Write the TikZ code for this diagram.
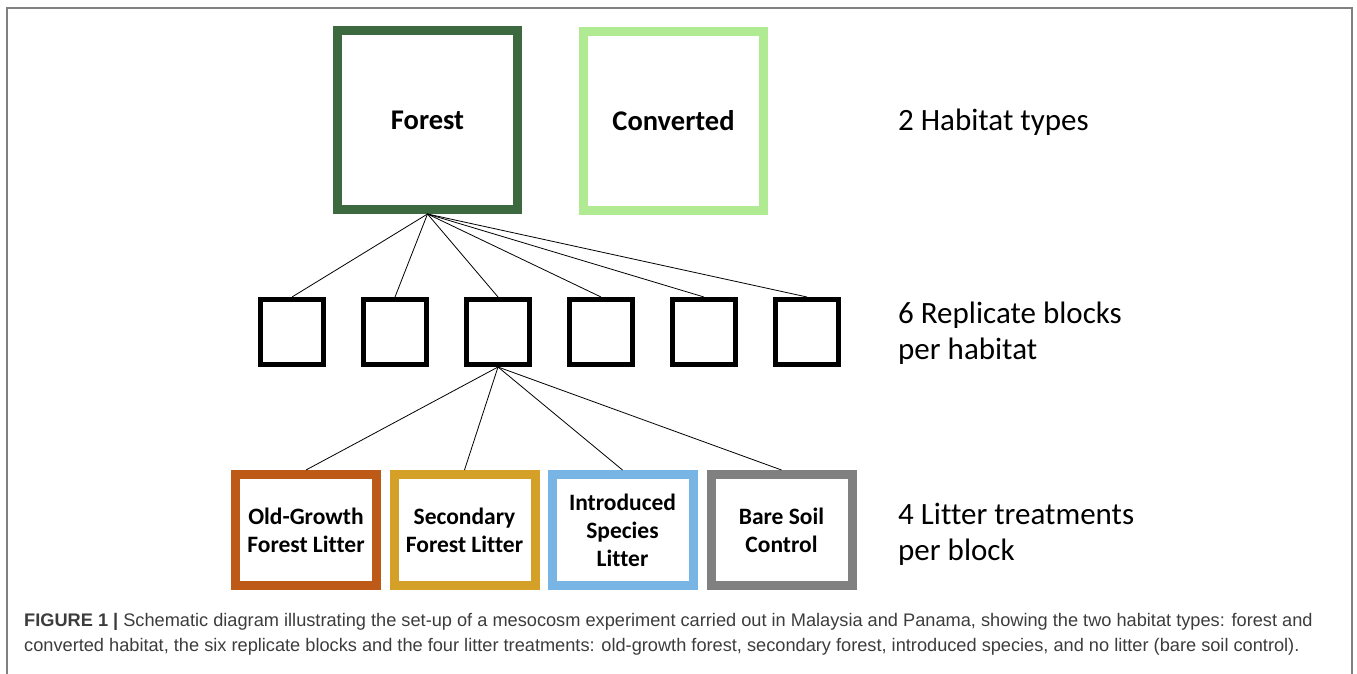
\documentclass[tikz,border=0pt]{standalone}
\usepackage{fontspec}
\setmainfont{Carlito}[Ligatures=CommonOff]
\newfontfamily\capfont{Liberation Sans}
\definecolor{forestgreen}{RGB}{61,105,64}
\definecolor{convgreen}{RGB}{176,234,146}
\definecolor{oldgrowth}{RGB}{190,90,24}
\definecolor{secondary}{RGB}{212,160,40}
\definecolor{introduced}{RGB}{120,180,228}
\definecolor{baresoil}{RGB}{128,128,128}
\definecolor{captext}{RGB}{60,60,60}
\begin{document}
\begin{tikzpicture}[x=1pt, y=-1pt,
    habitat/.style={draw, line width=9pt, minimum width=180pt, minimum height=179pt, inner sep=0pt, font=\bfseries\fontsize{28.5}{34}\selectfont},
    block/.style={draw, line width=5pt, minimum width=63pt, minimum height=65pt, inner sep=0pt},
    litter/.style={draw, line width=9pt, minimum width=141pt, minimum height=111pt, inner sep=0pt, align=center, font=\bfseries\fontsize{23.5}{28}\selectfont},
    level/.style={anchor=west, align=left, inner sep=0pt, font=\fontsize{31}{36}\selectfont},
    link/.style={line width=0.8pt}]
        \useasboundingbox (0,0) rectangle (1357,674);
        \draw [gray, line width=1.5pt] (7,690) -- (7,8) -- (1352,8) -- (1352,690);
        \node [habitat, forestgreen, text=black] (forest) at (427.5,120) {Forest};
        \node [habitat, convgreen, text=black] (converted) at (673.5,121) {Converted};
        \node [block] (block1) at (292,332) {};
        \node [block] (block2) at (395,332) {};
        \node [block] (block3) at (498,332) {};
        \node [block] (block4) at (601,332) {};
        \node [block] (block5) at (704,332) {};
        \node [block] (block6) at (807,332) {};
        \node [litter, oldgrowth, text=black] (oldgrowth) at (306,530) {Old-Growth\\Forest Litter};
        \node [litter, secondary, text=black] (secforest) at (464.5,530) {Secondary\\Forest Litter};
        \node [litter, introduced, text=black] (introduced) at (622.5,530) {Introduced\\Species\\Litter};
        \node [litter, baresoil, text=black] (baresoil) at (781.5,530) {Bare Soil\\Control};
        \draw [link] (forest.south) -- (block1.north);
        \draw [link] (forest.south) -- (block2.north);
        \draw [link] (forest.south) -- (block3.north);
        \draw [link] (forest.south) -- (block4.north);
        \draw [link] (forest.south) -- (block5.north);
        \draw [link] (forest.south) -- (block6.north);
        \draw [link] (block3.south) -- (oldgrowth.north);
        \draw [link] (block3.south) -- (secforest.north);
        \draw [link] (block3.south) -- (introduced.north);
        \draw [link] (block3.south) -- (baresoil.north);
        \node [level] (habitats) at (898,122) {2 Habitat types};
        \node [level] (blocks) at (898,333) {6 Replicate blocks\\per habitat};
        \node [level] (treatments) at (898,534) {4 Litter treatments\\per block};
        \node [anchor=north west, align=left, inner sep=0pt, text=captext, font=\capfont\fontsize{18.2}{25}\selectfont] (caption) at (24,613)
            {\textbf{FIGURE 1 |} Schematic diagram illustrating the set-up of a mesocosm experiment carried out in Malaysia and Panama, showing the two habitat types: forest and\\
             converted habitat, the six replicate blocks and the four litter treatments: old-growth forest, secondary forest, introduced species, and no litter (bare soil control).};
      \end{tikzpicture}
\end{document}
